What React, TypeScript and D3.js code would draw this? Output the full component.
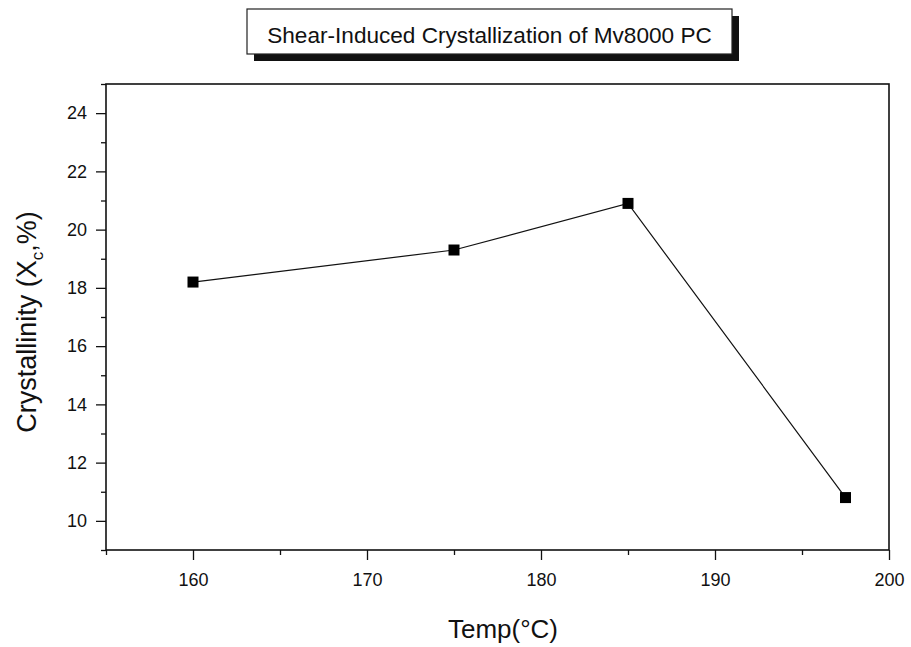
import React from 'react';
import * as d3 from 'd3';

// data
const temps = [160, 175, 185, 197.5];
const crystallinity = [18.2, 19.3, 20.9, 10.8];

const xMajor = [160, 170, 180, 190, 200];
const xMinor = [155, 165, 175, 185, 195];
const yMajor = [10, 12, 14, 16, 18, 20, 22, 24];
const yMinor = [9, 11, 13, 15, 17, 19, 21, 23, 25];

const titleText = 'Shear-Induced Crystallization of Mv8000 PC';
const font = '"Liberation Sans", Arial, sans-serif';

const W = 911;
const H = 647;

const drawChart = (ref) => {
    const svg = d3.select(ref.current);
    svg.selectAll('*').remove();

    const left = 106, right = 889, top = 84, bottom = 550;

    const x = d3.scaleLinear().domain([155, 200]).range([left, right]);
    const y = d3.scaleLinear().domain([9, 25]).range([bottom, top]);

    // title box with drop shadow
    const tb = { x: 247, y: 9, w: 485, h: 45 };
    svg.append('rect')
        .attr('x', tb.x + 7).attr('y', tb.y + 7)
        .attr('width', tb.w).attr('height', tb.h)
        .attr('fill', '#111');
    svg.append('rect')
        .attr('x', tb.x).attr('y', tb.y)
        .attr('width', tb.w).attr('height', tb.h)
        .attr('fill', '#fff')
        .attr('stroke', '#222')
        .attr('stroke-width', 1.2);
    svg.append('text')
        .attr('x', tb.x + tb.w / 2)
        .attr('y', 43)
        .attr('text-anchor', 'middle')
        .attr('font-family', font)
        .attr('font-size', '22.6px')
        .attr('fill', '#111')
        .text(titleText);

    // x axis
    const xAxis = svg.append('g')
        .attr('transform', 'translate(0,' + bottom + ')')
        .call(d3.axisBottom(x).tickValues(xMajor).tickSize(10).tickSizeOuter(0).tickPadding(13).tickFormat(d3.format('d')));
    svg.append('g')
        .attr('transform', 'translate(0,' + bottom + ')')
        .call(d3.axisBottom(x).tickValues(xMinor).tickSize(5).tickSizeOuter(0).tickFormat(() => ''))
        .select('.domain').remove();

    // y axis
    const yAxis = svg.append('g')
        .attr('transform', 'translate(' + left + ',0)')
        .call(d3.axisLeft(y).tickValues(yMajor).tickSize(10).tickSizeOuter(0).tickPadding(9).tickFormat(d3.format('d')));
    svg.append('g')
        .attr('transform', 'translate(' + left + ',0)')
        .call(d3.axisLeft(y).tickValues(yMinor).tickSize(5).tickSizeOuter(0).tickFormat(() => ''))
        .select('.domain').remove();

    svg.selectAll('.tick line').attr('stroke', '#111').attr('stroke-width', 1.3);
    [xAxis, yAxis].forEach(a => {
        a.select('.domain').remove();
        a.selectAll('text')
            .attr('font-family', font)
            .attr('font-size', '18px')
            .attr('fill', '#111');
    });

    // frame
    svg.append('rect')
        .attr('x', left).attr('y', top)
        .attr('width', right - left).attr('height', bottom - top)
        .attr('fill', 'none')
        .attr('stroke', '#111')
        .attr('stroke-width', 1.6);

    // axis titles
    svg.append('text')
        .attr('x', 503)
        .attr('y', 638)
        .attr('text-anchor', 'middle')
        .attr('font-family', font)
        .attr('font-size', '26px')
        .attr('fill', '#111')
        .text('Temp(°C)');

    const yl = svg.append('text')
        .attr('transform', 'translate(36,322) rotate(-90)')
        .attr('text-anchor', 'middle')
        .attr('font-family', font)
        .attr('font-size', '27px')
        .attr('fill', '#111');
    yl.append('tspan').text('Crystallinity (X');
    yl.append('tspan').attr('font-size', '17px').attr('dy', 7).text('c');
    yl.append('tspan').attr('dy', -7).text(',%)');

    // series
    const pts = temps.map((t, i) => ({ t, v: crystallinity[i] }));
    svg.append('path')
        .datum(pts)
        .attr('fill', 'none')
        .attr('stroke', '#111')
        .attr('stroke-width', 1.2)
        .attr('d', d3.line().x(d => x(d.t)).y(d => y(d.v)));

    svg.selectAll('rect.pt')
        .data(pts)
        .enter().append('rect')
        .attr('class', 'pt')
        .attr('x', d => x(d.t) - 5.5)
        .attr('y', d => y(d.v) - 5.5)
        .attr('width', 11)
        .attr('height', 11)
        .attr('fill', '#000');
};

export default function App() {
    const ref = React.useRef(null);

    React.useEffect(() => {
        drawChart(ref);
    }, []);

    return (
        <svg
            ref={ref}
            width={W}
            height={H}
            style={{ position: 'absolute', left: 0, top: 0, background: '#fff' }}
        />
    );
}
